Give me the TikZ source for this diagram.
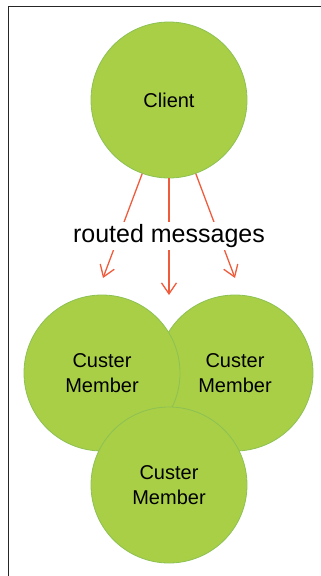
\documentclass[tikz,border=0pt]{standalone}
\usepackage{fontspec}
\setmainfont{Liberation Sans}
\usetikzlibrary{arrows.meta, positioning}

\definecolor{nodegreen}{HTML}{A9CF47}
\definecolor{nodeedge}{HTML}{8DC152}
\definecolor{msgred}{HTML}{EF5B3B}

\begin{document}
\begin{tikzpicture}[
		x=1pt, y=-1pt,
		% Styles
		member/.style={circle, draw=nodeedge, fill=nodegreen, line width=0.8pt, minimum size=156pt, inner sep=0pt, align=center, font=\fontsize{20}{25}\selectfont},
		msgarrow/.style={-{Straight Barb[length=11pt, width=15pt]}, line width=1.3pt, draw=msgred},
		frameline/.style={draw=black!85, line width=1.2pt}
		]
		\useasboundingbox (0,0) rectangle (321,576);
		
		% =========================================================
		% 1. FRAME (top and left edge only)
		% =========================================================
		\coordinate (topright) at (321,6.5);
		\coordinate (corner) at (8.5,6.5);
		\coordinate (bottomleft) at (8.5,576);
		\draw[frameline] (topright) -- (corner) -- (bottomleft);
		
		% =========================================================
		% 2. CLIENT
		% =========================================================
		\node[member] (client) at (169,100) {Client};
		
		% =========================================================
		% 3. CLUSTER MEMBERS (right one first, bottom one on top)
		% =========================================================
		\node[member] (member2) at (235,373) {Custer\\Member};
		\node[member] (member1) at (102,373) {Custer\\Member};
		\node[member] (member3) at (169,485) {Custer\\Member};
		
		% =========================================================
		% 4. ROUTED MESSAGES
		% =========================================================
		\coordinate (tip1) at (103,278);
		\coordinate (tip2) at (169,295);
		\coordinate (tip3) at (235,278);
		
		\draw[msgarrow] (client.-110) -- (tip1);
		\draw[msgarrow] (client.south) -- (tip2);
		\draw[msgarrow] (client.-70) -- (tip3);
		
		\node[fill=white, inner xsep=1pt, inner ysep=2pt, font=\fontsize{25}{30}\selectfont] (msgs) at (169,236) {routed messages};
		
	\end{tikzpicture}
\end{document}
